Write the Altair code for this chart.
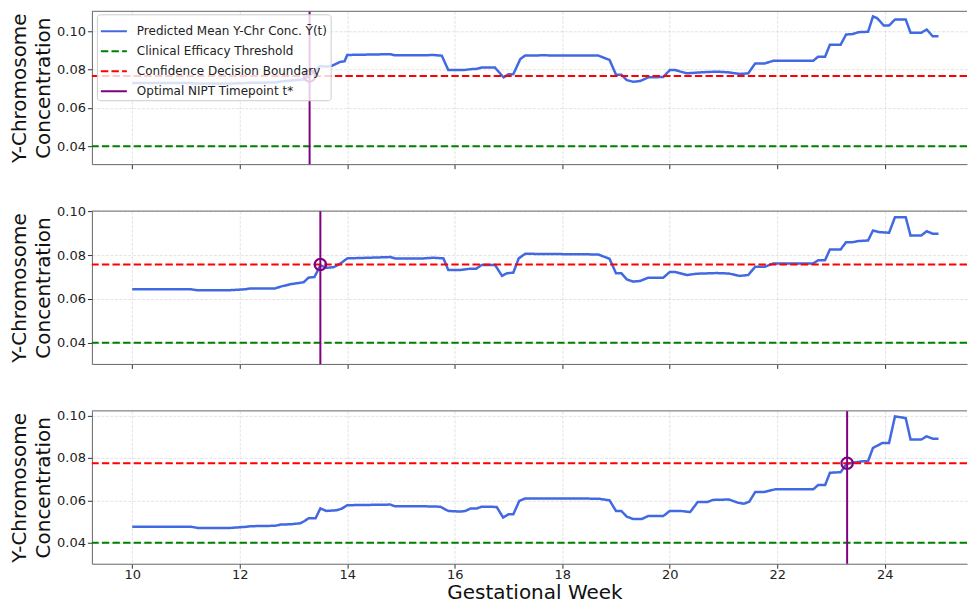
import altair as alt
import pandas as pd

# ---------------- data ----------------
weeks_a = [10.0, 11.1, 11.2, 11.8, 12.1, 12.2, 12.66, 12.76, 12.94, 13.19, 13.3, 13.42, 13.5, 13.62,
           13.72, 13.87, 13.95, 14.0, 14.8, 14.89, 15.42, 15.6, 15.76, 15.88, 16.16, 16.3, 16.4, 16.5,
           16.75, 16.91, 17.0, 17.09, 17.22, 17.31, 17.6, 18.67, 18.88, 19.0, 19.1, 19.2, 19.32, 19.45,
           19.6, 19.88, 20.0, 20.1, 20.32, 20.56, 20.87, 21.1, 21.3, 21.46, 21.59, 21.77, 21.93, 22.67,
           22.76, 22.89, 22.98, 23.18, 23.28, 23.4, 23.51, 23.69, 23.78, 23.86, 23.98, 24.08, 24.19,
           24.39, 24.48, 24.68, 24.78, 24.89, 25.0]
conc_a = [0.0729, 0.0729, 0.0727, 0.0727, 0.0729, 0.0731, 0.0732, 0.0737, 0.0742, 0.0748, 0.0766, 0.0800,
          0.0818, 0.0815, 0.0820, 0.0840, 0.0843, 0.0876, 0.0880, 0.0874, 0.0874, 0.0876, 0.0872, 0.0797,
          0.0797, 0.0802, 0.0803, 0.0810, 0.0810, 0.0759, 0.0775, 0.0776, 0.0855, 0.0873, 0.0874, 0.0873,
          0.0850, 0.0773, 0.0773, 0.0745, 0.0736, 0.0740, 0.0759, 0.0761, 0.0797, 0.0797, 0.0780, 0.0785,
          0.0789, 0.0785, 0.0777, 0.0780, 0.0832, 0.0832, 0.0846, 0.0846, 0.0867, 0.0867, 0.0930, 0.0930,
          0.0983, 0.0985, 0.0995, 0.0997, 0.1077, 0.1068, 0.1030, 0.1030, 0.1061, 0.1061, 0.0992, 0.0992,
          0.1009, 0.0974, 0.0974]

weeks_b = [10.0, 11.09, 11.22, 11.83, 12.11, 12.2, 12.66, 12.76, 12.94, 13.19, 13.28, 13.39, 13.5, 13.62,
           13.75, 13.87, 14.0, 14.8, 14.89, 15.42, 15.6, 15.79, 15.88, 16.1, 16.29, 16.4, 16.5, 16.75,
           16.88, 16.97, 17.09, 17.19, 17.31, 18.67, 18.88, 19.0, 19.1, 19.2, 19.32, 19.45, 19.6, 19.88,
           20.0, 20.1, 20.32, 20.5, 20.87, 21.1, 21.3, 21.46, 21.59, 21.77, 21.93, 22.67, 22.76, 22.89,
           22.98, 23.18, 23.28, 23.4, 23.51, 23.69, 23.78, 23.9, 24.08, 24.19, 24.39, 24.48, 24.68, 24.78,
           24.89, 25.0]
conc_b = [0.0644, 0.0644, 0.0639, 0.0640, 0.0644, 0.0648, 0.0648, 0.0656, 0.0667, 0.0676, 0.0697, 0.0700,
          0.0753, 0.0742, 0.0745, 0.0761, 0.0785, 0.0791, 0.0785, 0.0785, 0.0788, 0.0785, 0.0732, 0.0732,
          0.0738, 0.0738, 0.0755, 0.0755, 0.0705, 0.0717, 0.0720, 0.0785, 0.0806, 0.0803, 0.0783, 0.0717,
          0.0717, 0.0689, 0.0679, 0.0682, 0.0697, 0.0697, 0.0723, 0.0723, 0.0709, 0.0715, 0.0718, 0.0716,
          0.0705, 0.0709, 0.0747, 0.0747, 0.0762, 0.0762, 0.0776, 0.0777, 0.0826, 0.0826, 0.0859, 0.0859,
          0.0864, 0.0867, 0.0912, 0.0905, 0.0902, 0.0973, 0.0973, 0.0889, 0.0890, 0.0909, 0.0898, 0.0898]

weeks_c = [10.0, 11.1, 11.22, 11.83, 12.11, 12.2, 12.66, 12.76, 12.94, 13.13, 13.19, 13.28, 13.41, 13.5,
           13.61, 13.8, 13.9, 14.0, 14.8, 14.89, 15.42, 15.73, 15.79, 15.88, 16.1, 16.2, 16.29, 16.4,
           16.5, 16.78, 16.9, 17.0, 17.09, 17.2, 17.31, 18.67, 18.88, 19.0, 19.1, 19.2, 19.32, 19.48,
           19.6, 19.88, 20.0, 20.2, 20.38, 20.52, 20.7, 20.8, 21.1, 21.27, 21.38, 21.48, 21.59, 21.77,
           21.96, 22.67, 22.76, 22.89, 22.98, 23.18, 23.29, 23.4, 23.6, 23.69, 23.78, 23.96, 24.08,
           24.19, 24.39, 24.48, 24.68, 24.78, 24.89, 25.0]
conc_c = [0.0475, 0.0475, 0.0470, 0.0470, 0.0475, 0.0478, 0.0480, 0.0486, 0.0487, 0.0492, 0.0500, 0.0515,
          0.0515, 0.0562, 0.0550, 0.0553, 0.0561, 0.0577, 0.0580, 0.0572, 0.0572, 0.0570, 0.0562, 0.0550,
          0.0547, 0.0550, 0.0561, 0.0561, 0.0570, 0.0569, 0.0519, 0.0534, 0.0534, 0.0597, 0.0609, 0.0608,
          0.0600, 0.0550, 0.0550, 0.0523, 0.0512, 0.0512, 0.0526, 0.0526, 0.0550, 0.0550, 0.0545, 0.0592,
          0.0592, 0.0602, 0.0604, 0.0589, 0.0584, 0.0594, 0.0639, 0.0640, 0.0652, 0.0652, 0.0672, 0.0672,
          0.0730, 0.0733, 0.0772, 0.0777, 0.0785, 0.0785, 0.0847, 0.0871, 0.0871, 0.0996, 0.0988, 0.0887,
          0.0887, 0.0902, 0.0891, 0.0891]

optimal_week = [13.3, 13.5, 23.3]
decision_boundary = [0.0766, 0.0757, 0.0775]
efficacy_threshold = 0.04
y_domains = [[0.0306, 0.1104], [0.0303, 0.1001], [0.0301, 0.1022]]
x_domain = [9.25, 25.53]
x_ticks = [10, 12, 14, 16, 18, 20, 22, 24]
y_ticks = [0.04, 0.06, 0.08, 0.10]

series_labels = ["Predicted Mean Y-Chr Conc. \u0232(t)", "Clinical Efficacy Threshold",
                 "Confidence Decision Boundary", "Optimal NIPT Timepoint t*"]
series_colors = ["#4169E1", "#008000", "#FF0000", "#800080"]
series_dashes = [[1, 0], [7.4, 3.2], [7.4, 3.2], [1, 0]]

FONT = "DejaVu Sans"
W, H = 876, 153


def panel(i, weeks, conc, show_legend, bottom):
    line_df = pd.DataFrame({"week": weeks, "conc": conc, "series": series_labels[0]})
    h_df = pd.DataFrame({"conc": [efficacy_threshold, decision_boundary[i]],
                         "series": [series_labels[1], series_labels[2]]})
    v_df = pd.DataFrame({"week": [optimal_week[i]], "series": [series_labels[3]]})
    p_df = pd.DataFrame({"week": [optimal_week[i]], "conc": [decision_boundary[i]]})

    xaxis = alt.Axis(values=x_ticks, labels=bottom, title="Gestational Week" if bottom else None,
                     titleX=443, titleAlign="center")
    yaxis = alt.Axis(values=y_ticks, format=".2f", title=["Y-Chromosome", "Concentration"])
    xs = alt.Scale(domain=x_domain, nice=False, zero=False)
    ys = alt.Scale(domain=y_domains[i], nice=False, zero=False)
    x = alt.X("week:Q", scale=xs, axis=xaxis)
    y = alt.Y("conc:Q", scale=ys, axis=yaxis)

    if show_legend:
        leg = alt.Legend(orient="none", legendX=5, legendY=3, title=None)
    else:
        leg = None
    color = alt.Color("series:N", scale=alt.Scale(domain=series_labels, range=series_colors),
                      legend=leg, title=None)
    dash = alt.StrokeDash("series:N", scale=alt.Scale(domain=series_labels, range=series_dashes),
                          legend=leg, title=None)

    line = alt.Chart(line_df).mark_line(strokeWidth=2.5).encode(x=x, y=y, color=color, strokeDash=dash)
    hrules = alt.Chart(h_df).mark_rule(strokeWidth=2).encode(y=y, color=color, strokeDash=dash)
    vrule = alt.Chart(v_df).mark_rule(strokeWidth=2).encode(x=x, color=color, strokeDash=dash)
    pt = alt.Chart(p_df).mark_point(shape="circle", filled=False, size=130, strokeWidth=2.2,
                                    color="#800080", opacity=1).encode(x=x, y=y)
    top = alt.Chart(p_df).mark_rule(color="#666666", strokeWidth=1).encode(y=alt.value(0))
    return alt.layer(line, hrules, vrule, pt, top).properties(width=W, height=H)


p1 = panel(0, weeks_a, conc_a, True, False)
p2 = panel(1, weeks_b, conc_b, False, False)
p3 = panel(2, weeks_c, conc_c, False, True)

chart = alt.vconcat(p1, p2, p3, spacing=47, bounds="flush").resolve_scale(
    color="independent", strokeDash="independent", x="independent", y="independent"
).properties(
    padding={"left": 9, "top": 10, "right": 0, "bottom": 0}
).configure(font=FONT).configure_view(stroke=None).configure_axis(
    grid=True, gridColor="#b0b0b0", gridOpacity=0.45, gridDash=[3, 1.5], gridWidth=0.8,
    domainColor="#666666", domainWidth=1, tickColor="#333333", tickSize=4.5, tickWidth=1,
    labelFont=FONT, labelFontSize=13, labelColor="#222222", labelPadding=2,
    titleFont=FONT, titleFontSize=20, titleFontWeight="normal", titleColor="#111111",
).configure_axisY(titleLineHeight=24, titlePadding=3).configure_axisX(
    titlePadding=1, labelPadding=0
).configure_legend(
    symbolType="stroke", symbolSize=676, symbolStrokeWidth=2, labelFont=FONT, labelFontSize=12,
    labelColor="#222222", labelOffset=9, labelLimit=400, padding=3, rowPadding=0,
    fillColor="rgba(255,255,255,0.8)", strokeColor="#cccccc", cornerRadius=3,
)

chart.save("out.html", embed_options={"renderer": "svg", "actions": False})
